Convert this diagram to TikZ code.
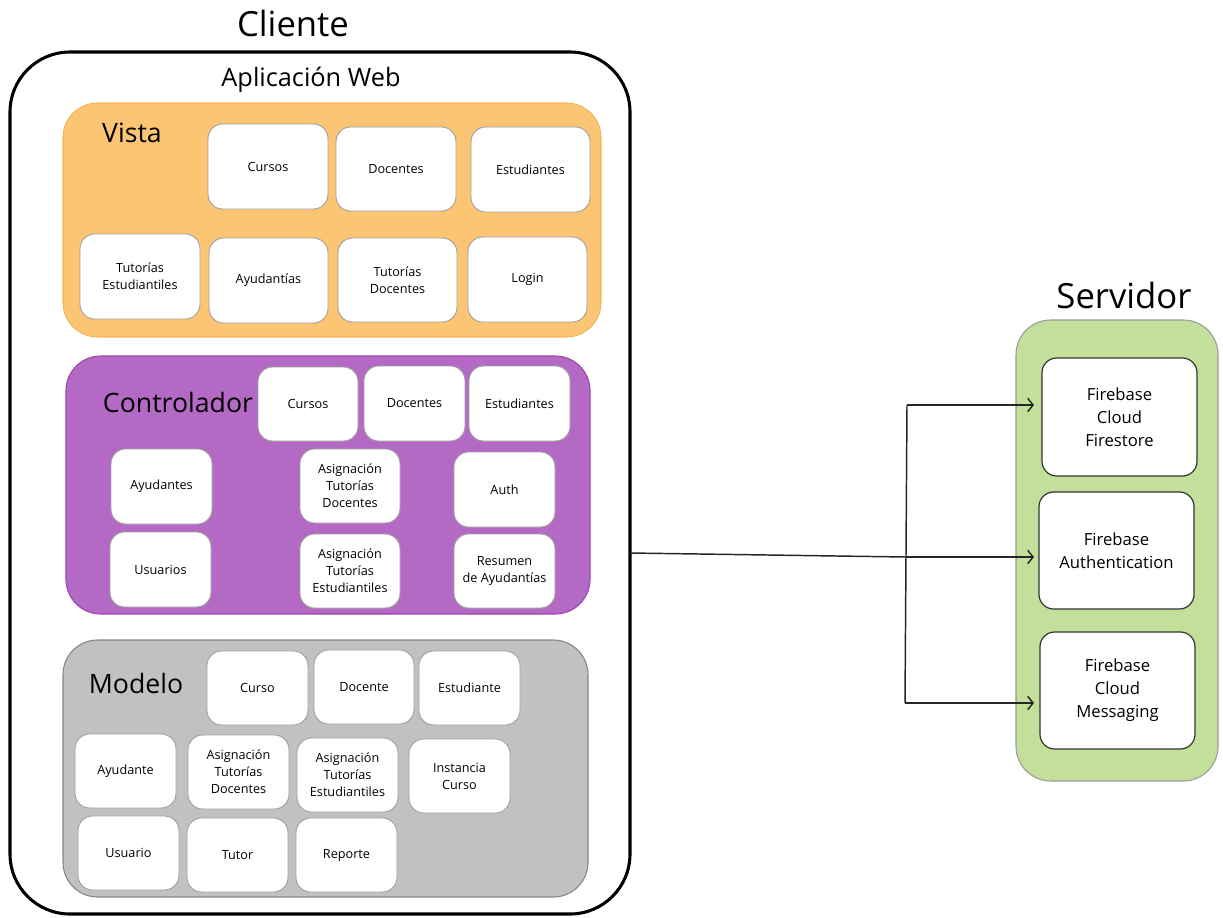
\documentclass[tikz,border=0pt]{standalone}
\usepackage{fontspec}
\setmainfont{Open Sans}
\usetikzlibrary{arrows.meta}
\definecolor{orfill}{HTML}{FCC574}
\definecolor{ordraw}{HTML}{F2B45A}
\definecolor{pufill}{HTML}{B46AC5}
\definecolor{pudraw}{HTML}{9A45AC}
\definecolor{grfill}{HTML}{C1C1C1}
\definecolor{grdraw}{HTML}{858585}
\definecolor{gnfill}{HTML}{C3E09B}
\definecolor{gndraw}{HTML}{9A9A9A}
\definecolor{wbdraw}{HTML}{A0A0A0}
\tikzset{
  wb/.style={draw=wbdraw, fill=white, line width=0.7pt, rounded corners=11pt, inner sep=0pt, align=center, font=\fontsize{9.5}{12.7}\selectfont},
  fb/.style={wb, draw=black!80, line width=0.9pt, font=\fontsize{12.5}{17.2}\selectfont},
  group/.style={line width=0.8pt, rounded corners=26pt},
  conn/.style={line width=1.1pt, black!85},
  arr/.style={conn, -{Straight Barb[length=4pt,width=10pt,line width=1.1pt]}}
}
\newcommand\mybox[7][wb]{%
  \node[#1, minimum width={(#5-#3)*0.75pt}, minimum height={(#6-#4)*0.75pt}] (#2) at ({(#3+#5)/2},{(#4+#6)/2}) {#7};}
\begin{document}
\begin{tikzpicture}[x=0.75pt,y=-0.75pt]
\useasboundingbox (0,0) rectangle (1223,917);
% titles
\node[font=\fontsize{26}{30}\selectfont] (tcli) at (293,24) {Cliente};
\node[font=\fontsize{26}{30}\selectfont] (tser) at (1124,295) {Servidor};
% client
\draw[line width=2.3pt, rounded corners=45pt] (10,52) rectangle (630,914);
\node[minimum width={620*0.75pt}, minimum height={862*0.75pt}] (cliente) at (320,483) {};
\node[font=\fontsize{19}{22}\selectfont] (tapp) at (311,80) {Aplicación Web};
% groups
\draw[group, fill=orfill, draw=ordraw] (63,103) rectangle (601,337);
\draw[group, fill=pufill, draw=pudraw] (66,356) rectangle (590,614);
\draw[group, fill=grfill, draw=grdraw] (63,640) rectangle (588,897);
\draw[group, fill=gnfill, draw=gndraw] (1016,320) rectangle (1218,781);
\node[font=\fontsize{20}{24}\selectfont] (lvista) at (132,133) {Vista};
\node[font=\fontsize{20}{24}\selectfont] (lcontr) at (178,402) {Controlador};
\node[font=\fontsize{20}{24}\selectfont] (lmodel) at (136,683) {Modelo};
% Vista
\mybox{v1}{208}{124}{328}{209}{Cursos}
\mybox{v2}{336}{127}{456}{211}{Docentes}
\mybox{v3}{471}{127}{590}{212}{Estudiantes}
\mybox{v4}{80}{234}{200}{319}{Tutorías\\Estudiantiles}
\mybox{v5}{209}{238}{328}{323}{Ayudantías}
\mybox{v6}{338}{238}{457}{322}{Tutorías\\Docentes}
\mybox{v7}{468}{237}{587}{322}{Login}
% Controlador
\mybox{c1}{258}{367}{358}{441}{Cursos}
\mybox{c2}{364}{366}{465}{441}{Docentes}
\mybox{c3}{469}{366}{570}{441}{Estudiantes}
\mybox{c4}{111}{449}{212}{524}{Ayudantes}
\mybox{c5}{300}{449}{400}{523}{Asignación\\Tutorías\\Docentes}
\mybox{c6}{454}{452}{555}{527}{Auth}
\mybox{c7}{110}{532}{211}{607}{Usuarios}
\mybox{c8}{300}{534}{400}{608}{Asignación\\Tutorías\\Estudiantiles}
\mybox{c9}{454}{534}{555}{608}{Resumen\\de Ayudantías}
% Modelo
\mybox{m1}{207}{651}{308}{725}{Curso}
\mybox{m2}{314}{650}{414}{724}{Docente}
\mybox{m3}{419}{651}{520}{725}{Estudiante}
\mybox{m4}{75}{734}{176}{808}{Ayudante}
\mybox{m5}{188}{735}{289}{809}{Asignación\\Tutorías\\Docentes}
\mybox{m6}{297}{738}{398}{812}{Asignación\\Tutorías\\Estudiantiles}
\mybox{m7}{409}{739}{510}{813}{Instancia\\Curso}
\mybox{m8}{78}{816}{179}{890}{Usuario}
\mybox{m9}{187}{818}{288}{892}{Tutor}
\mybox{m10}{296}{818}{397}{892}{Reporte}
% Servidor
\mybox[fb]{s1}{1042}{358}{1197}{476}{Firebase\\Cloud\\Firestore}
\mybox[fb]{s2}{1039}{492}{1194}{609}{Firebase\\Authentication}
\mybox[fb]{s3}{1040}{632}{1195}{749}{Firebase\\Cloud\\Messaging}
% connectors
\coordinate (src) at (630,553);
\coordinate (j2) at (906,557);
\coordinate (j1) at (907,405);
\coordinate (j3) at (905,703);
\coordinate (t1) at (1034,405);
\coordinate (t2) at (1034,557);
\coordinate (t3) at (1034,703);
\draw[conn] (src) -- (j2);
\draw[conn] (j1) -- (j3);
\draw[arr] (j1) -- (t1);
\draw[arr] (j2) -- (t2);
\draw[arr] (j3) -- (t3);
\end{tikzpicture}
\end{document}
